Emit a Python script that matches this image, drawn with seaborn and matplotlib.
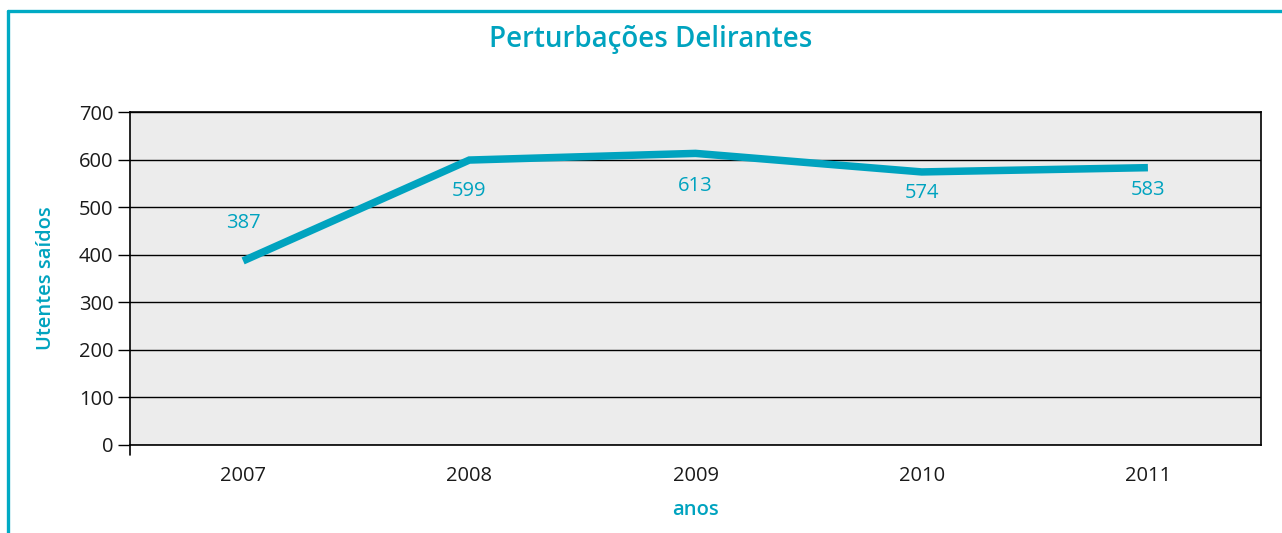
import matplotlib
matplotlib.use("Agg")
import matplotlib.pyplot as plt
import seaborn as sns
import pandas as pd
from matplotlib.lines import Line2D

years = ["2007", "2008", "2009", "2010", "2011"]
values = [387, 599, 613, 574, 583]
label_offsets_px = [38, -31, -33, -21, -22]  # label above/below point (display px)

title = "Perturbações Delirantes"
ylabel = "Utentes saídos"
xlabel = "anos"
yticks = [0, 100, 200, 300, 400, 500, 600, 700]

TEAL = "#00A3BF"

sns.set_theme(style="white")
plt.rcParams["font.family"] = ["Open Sans", "DejaVu Sans"]

df = pd.DataFrame({"ano": years, "utentes": values})
df["pos"] = range(len(years))

fig = plt.figure(figsize=(12.82, 5.33), dpi=100)
ax = fig.add_axes([130 / 1282, 1 - 445 / 533, (1261 - 130) / 1282, (445 - 112) / 533])
ax.set_facecolor("#ECECEC")

sns.lineplot(data=df, x="pos", y="utentes", ax=ax, color=TEAL, linewidth=5.4,
             solid_capstyle="butt", solid_joinstyle="miter", zorder=3)

ax.set_xlim(-0.5, len(years) - 0.5)
ax.set_ylim(0, 700)
ax.set_yticks(yticks)
ax.set_yticklabels([str(t) for t in yticks], fontsize=14.5, color="#1a1a1a")
ax.set_xticks(range(len(years)))
ax.set_xticklabels(years, fontsize=14.5, color="#1a1a1a")
ax.tick_params(axis="x", which="major", length=0, pad=15)
ax.set_xticks([i + 0.5 for i in range(len(years) - 1)], minor=True)
ax.tick_params(axis="x", which="minor", direction="in", length=8, width=1, color="black")
ax.tick_params(axis="y", which="major", direction="out", length=9, width=1, color="black", pad=3)
ax.yaxis.set_ticks_position("left")

ax.grid(axis="y", color="black", linewidth=1)
ax.set_axisbelow(True)
for s in ax.spines.values():
    s.set_visible(True)
    s.set_color("black")
    s.set_linewidth(1.2)

# left spine extension below axis
ax.plot([0, 0], [0, -10 / 333], transform=ax.transAxes, clip_on=False, color="black", lw=1.2)

for p, v, off in zip(df["pos"], df["utentes"], label_offsets_px):
    ax.annotate(str(v), (p, v), xytext=(0, off * 0.72), textcoords="offset points",
                ha="center", va="center", fontsize=14.5, color=TEAL, fontweight="medium")

ax.set_ylabel(ylabel, fontsize=14.5, color=TEAL, fontweight="semibold")
ax.yaxis.set_label_coords((56 - 130) / 1131, 0.5)
ax.set_xlabel(xlabel, fontsize=14.5, color=TEAL, fontweight="semibold")
ax.xaxis.set_label_coords(0.5, (445 - 500) / 333)

fig.text(651 / 1282, 1 - 39 / 533, title, ha="center", va="center", fontsize=20,
         color=TEAL, fontweight="semibold")

# frame lines
fig.add_artist(Line2D([8 / 1282, 1], [1 - 11 / 533, 1 - 11 / 533], transform=fig.transFigure,
                      color="#00AAC4", lw=2.4))
fig.add_artist(Line2D([8 / 1282, 8 / 1282], [0, 1 - 11 / 533], transform=fig.transFigure,
                      color="#00AAC4", lw=2.4))

fig.savefig("out.png", dpi=100, facecolor="white")
